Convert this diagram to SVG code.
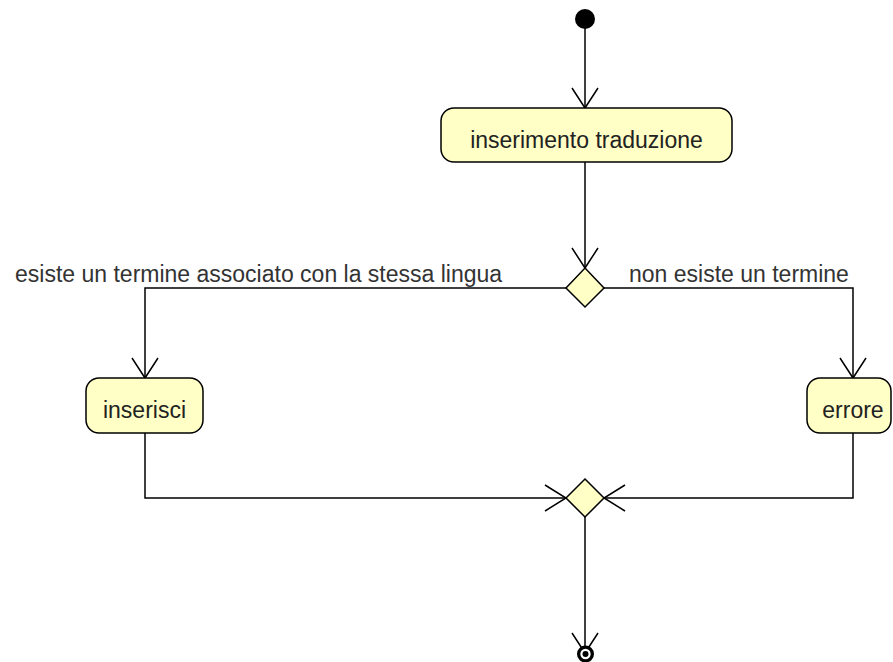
<svg xmlns="http://www.w3.org/2000/svg" width="893" height="662" viewBox="0 0 893 662">
  <style>
    .act { fill: #ffffc6; stroke: #000; stroke-width: 1.5; }
    .dec { fill: #ffffc6; stroke: #000; stroke-width: 1.5; }
    .edge { fill: none; stroke: #000; stroke-width: 1.5; }
    .lbl { font-family: "Liberation Sans", Arial, sans-serif; font-size: 23px; fill: #222; }
    .guard { font-family: "Liberation Sans", Arial, sans-serif; font-size: 23px; fill: #333; }
  </style>
  <rect width="893" height="662" fill="#fff"/>

  <!-- connectors -->
  <g id="connectors" class="edge">
    <!-- start -> inserimento traduzione -->
    <path d="M585,28 V108"/>
    <path d="M572,88 L585,108 L598,88"/>
    <!-- inserimento traduzione -> decision -->
    <path d="M585,162 V268"/>
    <path d="M572,248 L585,268 L598,248"/>
    <!-- decision -> inserisci -->
    <path d="M566,288 H145 V378"/>
    <path d="M132,358 L145,378 L158,358"/>
    <!-- decision -> errore -->
    <path d="M604,288 H853 V378"/>
    <path d="M840,358 L853,378 L866,358"/>
    <!-- inserisci -> merge -->
    <path d="M145,433 V498 H566"/>
    <path d="M545,485 L566,498 L545,511"/>
    <!-- errore -> merge -->
    <path d="M853,433 V498 H604"/>
    <path d="M625,485 L604,498 L625,511"/>
    <!-- merge -> end -->
    <path d="M585,517 V650"/>
    <path d="M572,633 L585,653 L598,633"/>
  </g>

  <g id="start">
    <circle cx="585" cy="19" r="10" fill="#000"/>
  </g>

  <g id="inserimento">
    <rect class="act" x="441" y="108" width="291" height="54" rx="13"/>
    <text class="lbl" x="586.5" y="148" text-anchor="middle">inserimento traduzione</text>
  </g>

  <g id="decision">
    <path class="dec" d="M585,268 L604,288 L585,307 L566,288 Z"/>
  </g>

  <g id="inserisci">
    <rect class="act" x="86" y="378" width="117" height="55" rx="13"/>
    <text class="lbl" x="144.5" y="418" text-anchor="middle">inserisci</text>
  </g>

  <g id="errore">
    <rect class="act" x="807" y="378" width="84" height="55" rx="13"/>
    <text class="lbl" x="853" y="418" text-anchor="middle">errore</text>
  </g>

  <g id="merge">
    <path class="dec" d="M585,479 L604,498 L585,517 L566,498 Z"/>
  </g>

  <g id="end">
    <circle cx="585.5" cy="654" r="8.5" fill="#000"/>
    <circle cx="585.5" cy="654" r="5.2" fill="#fff"/>
    <circle cx="585.5" cy="654" r="3" fill="#000"/>
  </g>

  <g id="guards">
    <text class="guard" x="15" y="282">esiste un termine associato con la stessa lingua</text>
    <text class="guard" x="629" y="282">non esiste un termine</text>
  </g>
</svg>
